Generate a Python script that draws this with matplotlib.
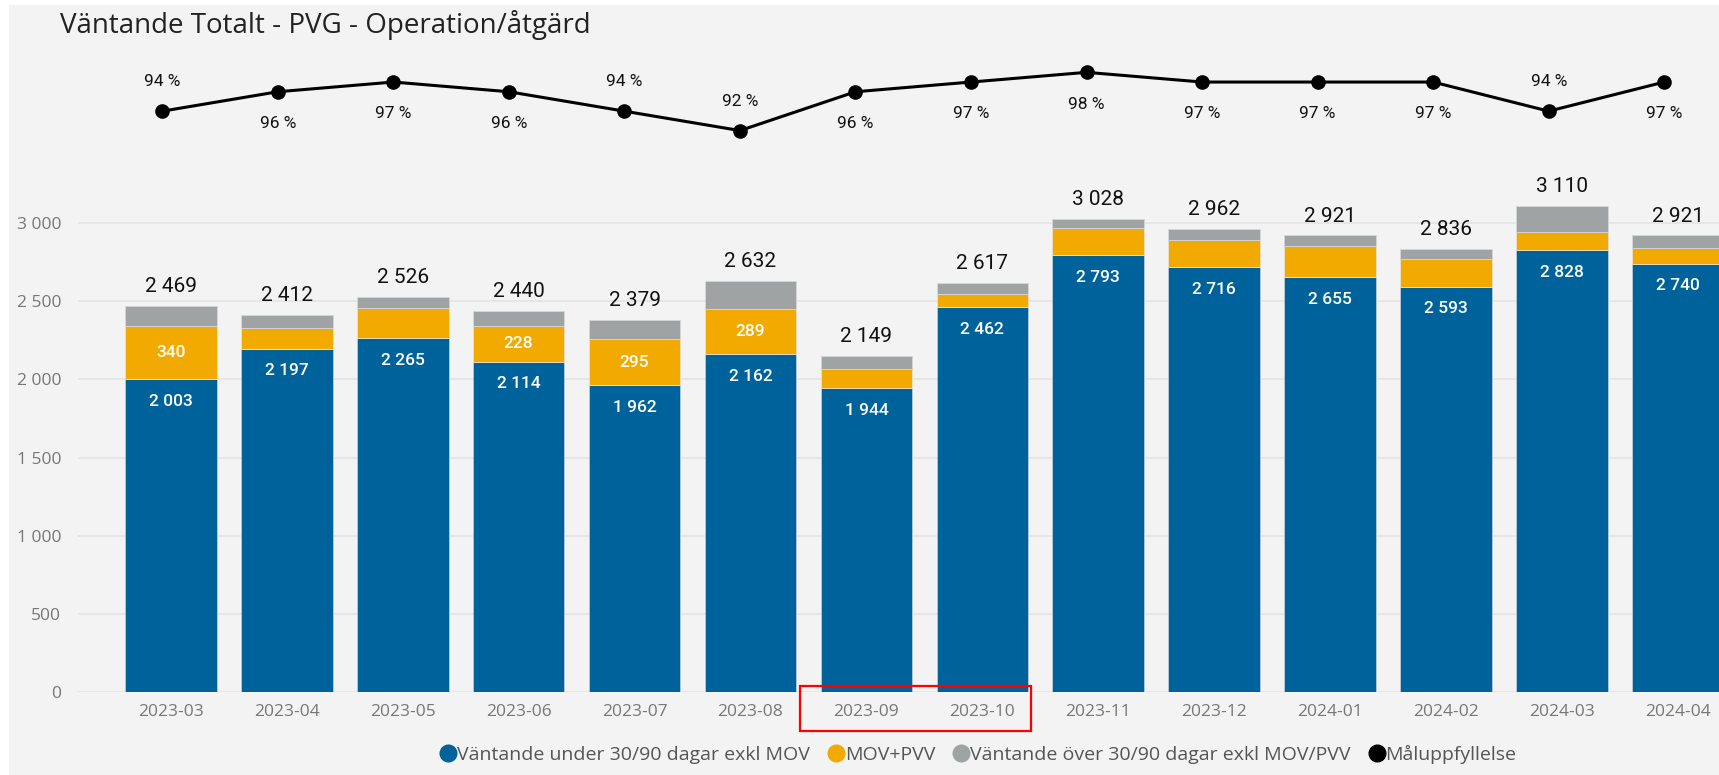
import matplotlib.pyplot as plt
from matplotlib.patches import Rectangle
import matplotlib.transforms as mtransforms

# Data
months = ['2023-03', '2023-04', '2023-05', '2023-06', '2023-07', '2023-08', '2023-09',
          '2023-10', '2023-11', '2023-12', '2024-01', '2024-02', '2024-03', '2024-04']
under_30_90 = [2003, 2197, 2265, 2114, 1962, 2162, 1944, 2462, 2793, 2716, 2655, 2593, 2828, 2740]
mov_pvv = [340, 133, 193, 228, 295, 289, 120, 84, 176, 174, 198, 180, 112, 98]
over_30_90 = [126, 82, 68, 98, 122, 181, 85, 71, 59, 72, 68, 63, 170, 83]
totals = [2469, 2412, 2526, 2440, 2379, 2632, 2149, 2617, 3028, 2962, 2921, 2836, 3110, 2921]
maluppfyllelse = [94, 96, 97, 96, 94, 92, 96, 97, 98, 97, 97, 97, 94, 97]
label_side = ['above', 'below', 'below', 'below', 'above', 'above', 'below',
              'below', 'below', 'below', 'below', 'below', 'above', 'below']

# Colours
blue = '#00629b'
orange = '#f2a900'
grey = '#a0a3a4'
bg = '#f3f3f3'

W, H = 1719, 775
fig = plt.figure(figsize=(W / 100, H / 100), dpi=100, facecolor='white')
# grey panel background with thin white border on the left/top
fig.patches.append(Rectangle((9 / W, 0), 1, 1 - 5 / H, transform=fig.transFigure,
                             facecolor=bg, edgecolor='none', zorder=-10))

fig.text(60 / W, 1 - 25 / H, 'Väntande Totalt - PVG - Operation/åtgärd',
         fontsize=20, family='Open Sans', color='#222222', va='center', ha='left')

x = list(range(len(months)))
left_px, bottom_px, top_px = 78, 692, 160
ax = fig.add_axes([left_px / W, 1 - bottom_px / H, (W - left_px) / W, (bottom_px - top_px) / H])
ax.set_facecolor('none')

bw = 0.79
ax.bar(x, under_30_90, width=bw, color=blue, edgecolor='#b9cbd9', linewidth=0.6, zorder=3)
ax.bar(x, mov_pvv, width=bw, bottom=under_30_90, color=orange, edgecolor='#e9e2cc',
       linewidth=0.6, zorder=3)
base2 = [a + b for a, b in zip(under_30_90, mov_pvv)]
ax.bar(x, over_30_90, width=bw, bottom=base2, color=grey, edgecolor='#d5d7d8',
       linewidth=0.6, zorder=3)

def fmt(v):
    return f'{v:,}'.replace(',', ' ')

for i in x:
    ax.annotate(fmt(under_30_90[i]), (i, under_30_90[i]), xytext=(0, -16),
                textcoords='offset points', ha='center', va='center', color='white',
                fontsize=12.5, family='Roboto', fontweight='medium', zorder=5)
    if mov_pvv[i] >= 200:
        ax.text(i, under_30_90[i] + mov_pvv[i] / 2, fmt(mov_pvv[i]), ha='center',
                va='center', color='white', fontsize=12.5, family='Roboto',
                fontweight='medium', zorder=5)
    ax.annotate(fmt(totals[i]), (i, totals[i]), xytext=(0, 7), textcoords='offset points',
                ha='center', va='bottom', color='#111111', fontsize=15, family='Roboto',
                zorder=5)

ax.set_xlim(-0.802, 13.356)
ax.set_ylim(0, (bottom_px - top_px) / 156.3 * 1000)
ax.set_yticks([0, 500, 1000, 1500, 2000, 2500, 3000])
ax.set_yticklabels([fmt(v) for v in [0, 500, 1000, 1500, 2000, 2500, 3000]])
ax.set_xticks(x)
ax.set_xticklabels(months)
ax.grid(axis='y', color='#e4e4e4', linewidth=1.2, zorder=0)
for s in ax.spines.values():
    s.set_visible(False)
ax.tick_params(axis='both', length=0, colors='#777777', labelsize=12.5)
ax.tick_params(axis='y', pad=12)
ax.tick_params(axis='x', pad=9)
for lbl in ax.get_xticklabels() + ax.get_yticklabels():
    lbl.set_family('Open Sans')

# red highlight box round 2023-09 / 2023-10
trans = mtransforms.blended_transform_factory(ax.transData, ax.transAxes)
ax.add_patch(Rectangle((5.43, -0.0733), 1.99, 0.0846, transform=trans, fill=False,
                       edgecolor='#ff0000', linewidth=1.6, clip_on=False, zorder=6))

# Måluppfyllelse line on its own axes at the top (slightly different x scale in the visual)
ax2 = fig.add_axes([left_px / W, 1 - 150 / H, (W - left_px) / W, 110 / H])
ax2.set_facecolor('none')
ax2.plot(x, maluppfyllelse, color='black', linewidth=2.2, marker='o', markersize=9.5,
         zorder=3, clip_on=False)
ax2.set_xlim(-0.7296, 13.474)
ax2.set_ylim(90, 101.33)
ax2.axis('off')
for i in x:
    off = 21 if label_side[i] == 'above' else -23
    ax2.annotate(f'{maluppfyllelse[i]} %', (i, maluppfyllelse[i]), xytext=(0, off),
                 textcoords='offset points', ha='center', va='center', fontsize=12.5,
                 family='Roboto', color='#111111')

# legend
handles = [
    plt.Line2D([], [], marker='o', linestyle='none', markersize=12, color=blue),
    plt.Line2D([], [], marker='o', linestyle='none', markersize=12, color=orange),
    plt.Line2D([], [], marker='o', linestyle='none', markersize=12, color=grey),
    plt.Line2D([], [], marker='o', linestyle='none', markersize=12, color='black'),
]
labels = ['Väntande under 30/90 dagar exkl MOV', 'MOV+PVV',
          'Väntande över 30/90 dagar exkl MOV/PVV', 'Måluppfyllelse']
leg = fig.legend(handles, labels, loc='center', bbox_to_anchor=(975 / W, 1 - 754 / H),
                 ncol=4, frameon=False, handletextpad=-0.3, columnspacing=0.6,
                 handlelength=1.5, prop={'family': 'Open Sans', 'size': 14},
                 labelcolor='#555555')

fig.savefig('out.png', dpi=100, facecolor=fig.get_facecolor())
